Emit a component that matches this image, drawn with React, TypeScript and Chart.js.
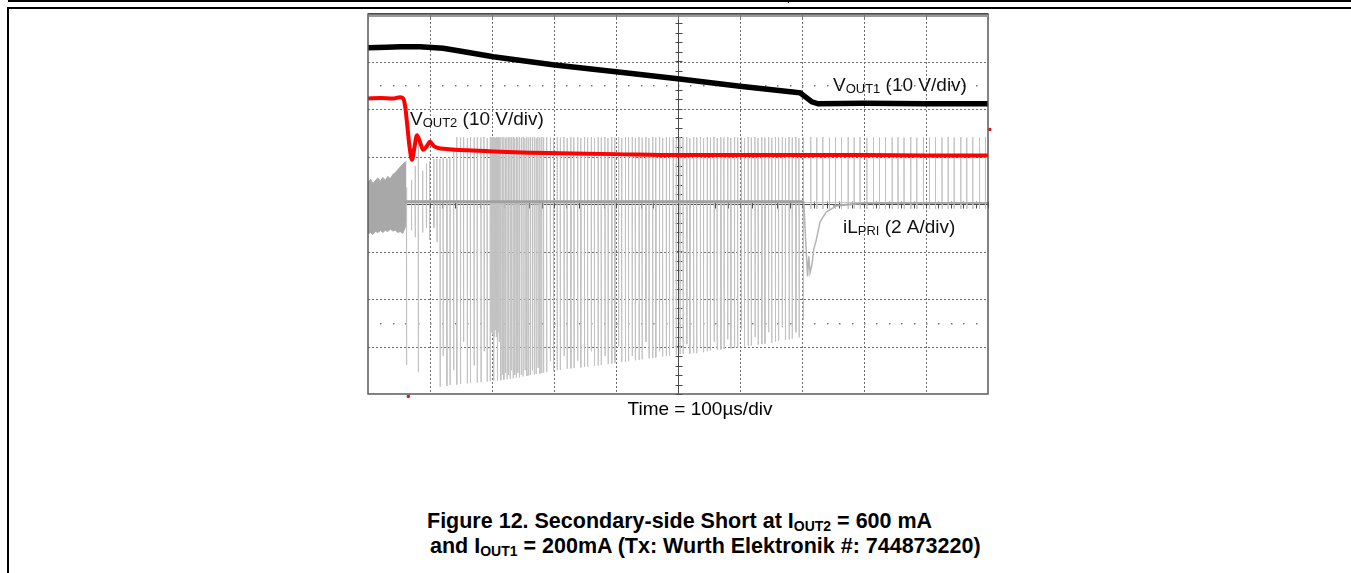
import React, { useEffect, useRef } from "react";
import { Chart, registerables } from "chart.js";

Chart.register(...registerables);

// ---- axes (time in µs, vertical in divisions) ----
const timeGridTicks = [0, 100, 200, 300, 400, 500, 600, 700, 800, 900, 1000];
const divGridTicks = [-4, -3, -2, -1, 0, 1, 2, 3, 4];
const markerRowDivs = [-2.5, 2.5];

// ---- VOUT1 (black) ----
const vout1Time = [0, 30, 52, 84, 121, 148, 202, 298, 418, 503, 600, 685, 697, 706, 716, 726, 800, 900, 1000];
const vout1Div = [3.29, 3.3, 3.31, 3.31, 3.28, 3.22, 3.1, 2.93, 2.76, 2.63, 2.48, 2.36, 2.34, 2.25, 2.15, 2.11, 2.12, 2.11, 2.11];

// ---- VOUT2 (red) ----
const vout2Time = [0, 20, 40, 52, 57, 60, 63, 67, 71, 75, 79, 84, 89, 95, 100, 106, 113, 126, 160, 202, 260, 310, 400, 503, 600, 700, 800, 900, 1000];
const vout2Div = [2.22, 2.23, 2.22, 2.25, 2.22, 2.05, 1.7, 1.2, 0.93, 1.2, 1.45, 1.3, 1.14, 1.22, 1.31, 1.22, 1.18, 1.16, 1.13, 1.105, 1.08, 1.07, 1.05, 1.03, 1.03, 1.03, 1.03, 1.02, 1.02];

// ---- iL_PRI (gray) ----
const iLBandTime = [0, 4, 8, 12, 16, 20, 24, 28, 32, 36, 40, 44, 48, 52, 56, 60, 62];
const iLBandTop = [0.45, 0.52, 0.43, 0.5, 0.55, 0.48, 0.56, 0.5, 0.58, 0.53, 0.62, 0.66, 0.72, 0.78, 0.84, 0.88, 0.9];
const iLBandBottom = [-0.63, -0.6, -0.64, -0.58, -0.6, -0.56, -0.6, -0.55, -0.58, -0.53, -0.57, -0.55, -0.6, -0.58, -0.62, -0.5, -0.3];

const iLBaselineTime = [60, 150, 300, 450, 600, 700, 703];
const iLBaselineDiv = [0.05, 0.05, 0.05, 0.05, 0.05, 0.05, 0.02];
const iLTailTime = [750, 800, 900, 1000];
const iLTailDiv = [-0.04, 0.02, 0.02, 0.02];

const iLRecoveryTime = [703, 706, 709, 711, 713, 716, 719, 723, 729, 739, 753];
const iLRecoveryDiv = [0.02, -0.8, -1.52, -1.1, -1.45, -1.28, -0.95, -0.76, -0.38, -0.17, -0.06];

// switching pulses: [time µs, lowest div, highest div]
const iLPulses: [number, number, number][] = [
  [62, -3.39, 0.35], [70, -0.55, 0.5], [76, -0.7, 0.8], [81, -3.54, 1.3], [88, -0.6, 0.7], [94, -0.5, 0.85],
  [99, -0.76, 0.9], [106, -0.5, 0.95], [111, -0.8, 0.95],
  [116, -3.85, 0.95], [121, -3.2, 0.97], [127, -3.83, 0.96], [132, -3.81, 0.98], [138, -3.5, 1.2], [143, -3.8, 1.41],
  [149, -3.79, 1.4], [154, -2.9, 1.41], [160, -3.78, 1.39], [165, -3.77, 1.41], [171, -3.4, 1.4], [176, -3.76, 1.41],
  [182, -3.75, 1.4], [187, -3.1, 1.41], [192, -3.74, 1.39], [197, -3.73, 1.41],
  [199.5, -2.7, 1.4], [201, -2.75, 1.41], [202.5, -3.72, 1.4], [204, -2.8, 1.41], [205.5, -2.65, 1.39], [207, -2.8, 1.41],
  [208.5, -3.72, 1.4], [210, -2.7, 1.41], [211.5, -2.9, 1.4],
  [214, -3.71, 1.41], [216.5, -3.6, 1.4], [219, -3.7, 1.41], [221.5, -3.55, 1.39], [224, -3.69, 1.41], [226.5, -3.6, 1.4],
  [229, -3.68, 1.41], [231.5, -3.5, 1.4], [234, -3.67, 1.41], [236.5, -3.6, 1.39], [239, -3.66, 1.41], [241.5, -3.55, 1.4],
  [244, -3.65, 1.41], [247, -3.6, 1.4], [250, -3.63, 1.41], [253, -3.5, 1.39], [256, -3.62, 1.41],
  [259, -3.61, 1.4], [262, -3.6, 1.41], [265, -3.5, 1.4], [268, -3.59, 1.41], [271, -3.58, 1.39], [274, -3.45, 1.41],
  [277, -3.57, 1.4], [280, -3.56, 1.41], [283, -3.55, 1.4],
  [288, -3.54, 1.41], [294, -3.3, 1.4], [299, -3.52, 1.39], [305, -3.5, 1.41], [310, -3.49, 1.4], [316, -3.2, 1.41],
  [321, -3.47, 1.39], [327, -3.46, 1.41], [332, -3.45, 1.4], [338, -3.3, 1.41], [343, -3.44, 1.39], [349, -3.43, 1.41],
  [354, -3.42, 1.4], [360, -3.1, 1.41], [365, -3.41, 1.39], [371, -3.4, 1.41], [376, -3.39, 1.4], [382, -3.2, 1.41],
  [387, -3.37, 1.39], [393, -3.36, 1.41], [398, -3.35, 1.4], [404, -3.0, 1.41], [409, -3.33, 1.39], [415, -3.32, 1.41],
  [420, -3.31, 1.4], [426, -3.2, 1.41], [431, -3.29, 1.39], [437, -3.28, 1.41], [442, -3.27, 1.4], [448, -2.9, 1.41],
  [453, -3.25, 1.39], [459, -3.24, 1.41], [464, -3.23, 1.4], [470, -3.1, 1.41], [475, -3.21, 1.39], [481, -3.2, 1.41],
  [486, -3.19, 1.4], [492, -3.0, 1.41], [497, -3.17, 1.39], [503, -3.16, 1.41], [508, -3.16, 1.4], [514, -2.95, 1.41],
  [519, -3.15, 1.39], [525, -3.14, 1.41], [530, -3.14, 1.4], [536, -3.0, 1.41], [541, -3.12, 1.39], [547, -3.1, 1.41],
  [552, -3.09, 1.4], [558, -2.9, 1.41], [563, -3.07, 1.39], [569, -3.06, 1.41], [574, -3.05, 1.4], [580, -2.85, 1.41],
  [585, -3.04, 1.39], [591, -3.03, 1.41], [596, -3.02, 1.4], [602, -2.65, 1.41], [607, -3.0, 1.39], [613, -2.99, 1.41],
  [618, -2.98, 1.4], [624, -2.8, 1.41], [629, -2.96, 1.39], [635, -2.95, 1.41], [640, -2.94, 1.4], [646, -2.7, 1.41],
  [651, -2.92, 1.39], [657, -2.9, 1.41], [662, -2.88, 1.4], [668, -2.6, 1.41], [673, -2.86, 1.39], [679, -2.85, 1.41],
  [684, -2.83, 1.4], [690, -2.7, 1.41], [695, -2.81, 1.39], [702, -2.44, 1.4],
  [714, -0.1, 1.41], [723.7, -0.1, 1.4], [733.4, -0.1, 1.41], [744, -0.1, 1.4], [753.7, -0.1, 1.41], [763.4, -0.1, 1.4],
  [774.2, -0.1, 1.41], [783.9, -0.1, 1.4], [793.5, -0.1, 1.41], [804.4, -0.1, 1.4], [815, -0.1, 1.41], [824.7, -0.1, 1.4],
  [834.4, -0.1, 1.41], [845.2, -0.1, 1.4], [854.8, -0.1, 1.41], [864.5, -0.1, 1.4], [875.3, -0.1, 1.41], [885, -0.1, 1.4],
  [895.6, -0.1, 1.41], [905.3, -0.1, 1.4], [915, -0.1, 1.41], [925.8, -0.1, 1.4], [935.5, -0.1, 1.41], [945.2, -0.1, 1.4],
  [956, -0.1, 1.41], [965.6, -0.1, 1.4], [975.3, -0.1, 1.41], [986, -0.1, 1.4], [995.6, -0.1, 1.41],
];
const iLPulseBase = 0.03;

// channel markers (red)
const redMarkerTime = [1003, 65];
const redMarkerDiv = [1.57, -4.05];

// trace labels: [time, div, main, sub, rest]
const traceLabels: [number, number, string, string, string][] = [
  [750, 2.38, "V", "OUT1", " (10 V/div)"],
  [67.7, 1.66, "V", "OUT2", " (10 V/div)"],
  [766, -0.61, "iL", "PRI", " (2 A/div)"],
];

const FONT = '"Liberation Sans", Arial, Helvetica, sans-serif';

const toXY = (xs: number[], ys: number[]) => xs.map((x, i) => ({ x, y: ys[i] }));

const scopePlugin = {
  id: "scopeGrid",
  beforeDatasetsDraw(chart: any) {
    const { ctx, chartArea: a, scales } = chart;
    const x = scales.x;
    const y = scales.y;
    ctx.save();
    ctx.strokeStyle = "#6e6e6e";
    ctx.lineWidth = 1;
    ctx.setLineDash([2, 2]);
    for (const t of timeGridTicks) {
      if (t === 0 || t === 1000 || t === 500) continue;
      const px = Math.round(x.getPixelForValue(t)) + 0.5;
      ctx.beginPath();
      ctx.moveTo(px, a.top);
      ctx.lineTo(px, a.bottom);
      ctx.stroke();
    }
    for (const v of divGridTicks) {
      if (v === -4 || v === 4 || v === 0) continue;
      const py = Math.round(y.getPixelForValue(v)) + 0.5;
      ctx.beginPath();
      ctx.moveTo(a.left, py);
      ctx.lineTo(a.right, py);
      ctx.stroke();
    }
    ctx.setLineDash([]);
    ctx.fillStyle = "#7a7a7a";
    for (const r of markerRowDivs) {
      const py = Math.round(y.getPixelForValue(r));
      for (let t = 20; t < 1000; t += 20) {
        const px = Math.round(x.getPixelForValue(t));
        ctx.fillRect(px, py, 1.5, 1.5);
      }
    }
    ctx.strokeStyle = "#4a4a4a";
    const cx = Math.round(x.getPixelForValue(500)) + 0.5;
    const cy = Math.round(y.getPixelForValue(0)) + 0.5;
    ctx.beginPath();
    ctx.moveTo(cx, a.top);
    ctx.lineTo(cx, a.bottom);
    ctx.moveTo(a.left, cy);
    ctx.lineTo(a.right, cy);
    for (let v = -4; v <= 4.001; v += 0.2) {
      const py = Math.round(y.getPixelForValue(v)) + 0.5;
      ctx.moveTo(cx - 3, py);
      ctx.lineTo(cx + 4, py);
    }
    for (let t = 0; t <= 1000; t += 20) {
      const px = Math.round(x.getPixelForValue(t)) + 0.5;
      ctx.moveTo(px, cy - 3);
      ctx.lineTo(px, cy + 4);
    }
    ctx.stroke();
    ctx.restore();
  },
  afterDatasetsDraw(chart: any) {
    const { ctx, chartArea: a, scales } = chart;
    const x = scales.x;
    const y = scales.y;
    ctx.save();
    ctx.strokeStyle = "#5a5a5a";
    ctx.lineWidth = 1.5;
    ctx.strokeRect(a.left, a.top, a.right - a.left, a.bottom - a.top);
    ctx.fillStyle = "#9a9a9a";
    ctx.fillRect(a.left, a.top, a.right - a.left, 3);
    ctx.fillStyle = "#4a4a4a";
    ctx.fillRect(a.left, a.top - 1, a.right - a.left, 1.5);
    ctx.fillStyle = "#777";
    for (const t of timeGridTicks) {
      const px = Math.round(x.getPixelForValue(t));
      ctx.fillRect(px, a.top, 1, 6);
    }
    ctx.fillStyle = "#111";
    ctx.textBaseline = "alphabetic";
    for (const [t, v, main, sub, rest] of traceLabels) {
      let px = x.getPixelForValue(t);
      const py = y.getPixelForValue(v);
      ctx.font = `19px ${FONT}`;
      ctx.fillText(main, px, py);
      px += ctx.measureText(main).width;
      ctx.font = `13px ${FONT}`;
      ctx.fillText(sub, px, py + 2);
      px += ctx.measureText(sub).width;
      ctx.font = `19px ${FONT}`;
      ctx.fillText(rest, px, py);
    }
    ctx.restore();
  },
};

export default function App() {
  const canvasRef = useRef<HTMLCanvasElement | null>(null);

  useEffect(() => {
    if (!canvasRef.current) return;
    const pulseData: { x: number; y: number }[] = [];
    for (const [t, lo, hi] of iLPulses) {
      pulseData.push({ x: t, y: iLPulseBase }, { x: t, y: hi }, { x: t + 0.3, y: lo }, { x: t + 0.6, y: iLPulseBase });
    }
    const thin = { pointRadius: 0, tension: 0, fill: false };
    const chart = new Chart(canvasRef.current, {
      type: "line",
      data: {
        datasets: [
          { label: "VOUT1", data: toXY(vout1Time, vout1Div), borderColor: "#000000", borderWidth: 5.5, ...thin, order: 0 },
          {
            label: "VOUT2",
            data: toXY(vout2Time, vout2Div),
            borderColor: "#ff0000",
            borderWidth: 4,
            pointRadius: 0,
            cubicInterpolationMode: "monotone",
            order: 1,
          },
          { label: "iL baseline", data: toXY(iLBaselineTime, iLBaselineDiv), borderColor: "#a0a0a0", borderWidth: 3, ...thin, order: 2 },
          { label: "iL tail", data: toXY(iLTailTime, iLTailDiv), borderColor: "#aaaaaa", borderWidth: 2, ...thin, order: 2 },
          { label: "iL recovery", data: toXY(iLRecoveryTime, iLRecoveryDiv), borderColor: "#b4b4b4", borderWidth: 1.5, ...thin, order: 2 },
          { label: "iL pulses", data: pulseData, borderColor: "#c2c2c2", borderWidth: 1, ...thin, order: 3 },
          {
            label: "iL band top",
            data: toXY(iLBandTime, iLBandTop),
            borderColor: "#a8a8a8",
            backgroundColor: "#a8a8a8",
            borderWidth: 1,
            pointRadius: 0,
            fill: "+1",
            order: 4,
          },
          { label: "iL band bottom", data: toXY(iLBandTime, iLBandBottom), borderColor: "#b0b0b0", borderWidth: 1, ...thin, order: 5 },
          {
            label: "markers",
            data: toXY(redMarkerTime, redMarkerDiv),
            showLine: false,
            pointRadius: 1.5,
            pointStyle: "rect",
            pointBackgroundColor: "#ff0000",
            pointBorderColor: "#ff0000",
            clip: false,
            order: 0,
          } as any,
        ],
      },
      options: {
        animation: false,
        responsive: false,
        maintainAspectRatio: false,
        parsing: false as any,
        normalized: true,
        layout: { padding: { left: 10, right: 10, top: 10, bottom: 10 } },
        plugins: { legend: { display: false }, tooltip: { enabled: false } },
        events: [],
        scales: {
          x: { type: "linear", min: 0, max: 1000, display: false },
          y: { type: "linear", min: -4, max: 4, display: false },
        },
      },
      plugins: [scopePlugin],
    });
    return () => chart.destroy();
  }, []);

  const subStyle: React.CSSProperties = { fontSize: "14px", verticalAlign: "-3px", lineHeight: 0 };
  const captionLine: React.CSSProperties = {
    position: "absolute",
    fontSize: "21.5px",
    lineHeight: "25px",
    fontWeight: "bold",
    whiteSpace: "nowrap",
  };

  return (
    <div style={{ fontFamily: FONT, color: "#000" }}>
      <div style={{ position: "absolute", left: 8, top: 0, right: 0, height: 2, background: "#000" }} />
      <div style={{ position: "absolute", left: 788, top: 0, width: 1, height: 3, background: "#000" }} />
      <div style={{ position: "absolute", left: 7, top: 7, right: 0, height: 2, background: "#000" }} />
      <div style={{ position: "absolute", left: 7, top: 7, width: 2, height: 566, background: "#000" }} />
      <canvas
        ref={canvasRef}
        width={640}
        height={400}
        style={{ position: "absolute", left: 358, top: 4, width: 640, height: 400 }}
      />
      <div
        style={{
          position: "absolute",
          left: 500,
          width: 400,
          top: 398,
          textAlign: "center",
          fontSize: "19px",
          lineHeight: "21px",
          whiteSpace: "nowrap",
        }}
      >
        Time = 100µs/div
      </div>
      <div style={{ ...captionLine, left: 427, top: 509 }}>
        Figure 12. Secondary-side Short at I<span style={subStyle}>OUT2</span> = 600 mA
      </div>
      <div style={{ ...captionLine, left: 430, top: 534 }}>
        and I<span style={subStyle}>OUT1</span> = 200mA (Tx: Wurth Elektronik #: 744873220)
      </div>
    </div>
  );
}
